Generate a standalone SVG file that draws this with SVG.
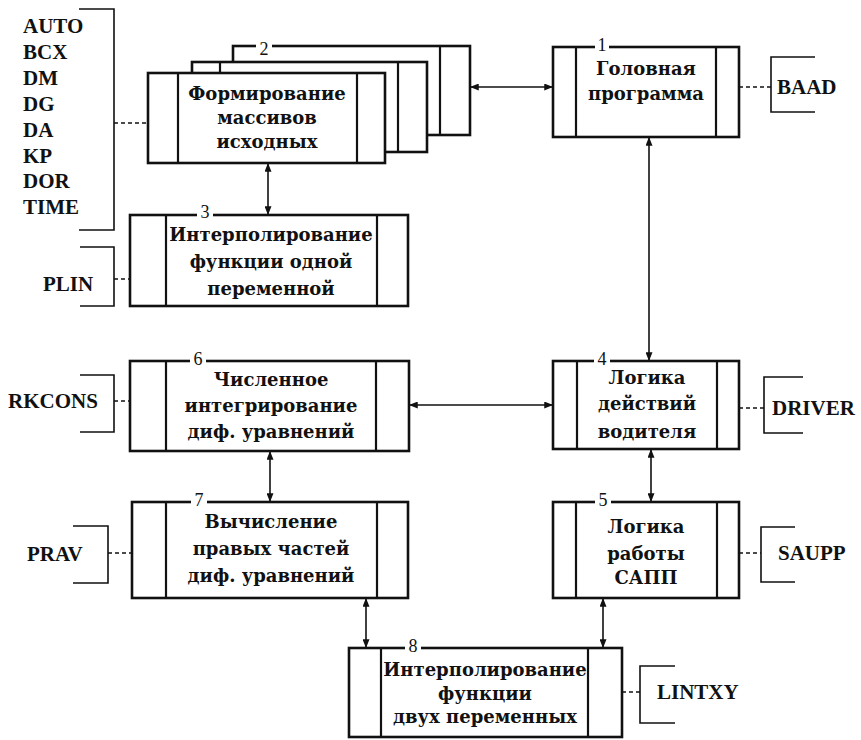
<svg xmlns="http://www.w3.org/2000/svg" width="861" height="740" viewBox="0 0 861 740">
<style>
.box{fill:#fff;stroke:#111;stroke-width:2.6}
.div{fill:none;stroke:#111;stroke-width:2.2}
.t{font-family:"DejaVu Serif","Liberation Serif",serif;font-weight:bold;font-size:18px;fill:#111;text-anchor:middle}
.n{font-family:"Liberation Serif",serif;font-size:18px;fill:#111;text-anchor:middle}
.lbl{font-family:"Liberation Serif",serif;font-weight:bold;font-size:21px;fill:#111}
.br{fill:none;stroke:#111;stroke-width:1.6}
.dash{fill:none;stroke:#111;stroke-width:1.6;stroke-dasharray:4 3}
.arr{fill:none;stroke:#111;stroke-width:1.6;marker-start:url(#ah);marker-end:url(#ah)}
.gap{fill:#fff}
</style>
<defs>
<marker id="ah" viewBox="0 0 10 8" refX="10" refY="4" markerWidth="10" markerHeight="7" markerUnits="userSpaceOnUse" orient="auto-start-reverse">
<path d="M0,0 L10,4 L0,8 z" fill="#111"/>
</marker>
</defs>
<rect width="861" height="740" fill="#fff"/>

<g id="connectors">
<line class="arr" x1="470" y1="87" x2="553" y2="87"/>
<line class="arr" x1="268" y1="163" x2="268" y2="215"/>
<line class="arr" x1="649" y1="137" x2="649" y2="361"/>
<line class="arr" x1="409" y1="405" x2="553" y2="405"/>
<line class="arr" x1="270" y1="451" x2="270" y2="502"/>
<line class="arr" x1="651" y1="449" x2="651" y2="502"/>
<line class="arr" x1="366" y1="598" x2="366" y2="648"/>
<line class="arr" x1="603" y1="598" x2="603" y2="648"/>
<line class="dash" x1="114" y1="123" x2="148" y2="123"/>
<line class="dash" x1="739" y1="87" x2="771" y2="87"/>
<line class="dash" x1="114" y1="279" x2="130" y2="279"/>
<line class="dash" x1="114" y1="401" x2="130" y2="401"/>
<line class="dash" x1="739" y1="408" x2="764" y2="408"/>
<line class="dash" x1="108" y1="553" x2="132" y2="553"/>
<line class="dash" x1="739" y1="553" x2="761" y2="553"/>
<line class="dash" x1="622" y1="692" x2="640" y2="692"/>
</g>

<g id="labels-left">
<path class="br" d="M79,9 H114 V230 H79"/>
<text class="lbl" x="23" y="33">AUTO</text>
<text class="lbl" x="23" y="59">BCX</text>
<text class="lbl" x="23" y="85">DM</text>
<text class="lbl" x="23" y="111">DG</text>
<text class="lbl" x="23" y="137">DA</text>
<text class="lbl" x="23" y="163">KP</text>
<text class="lbl" x="23" y="188">DOR</text>
<text class="lbl" x="23" y="214">TIME</text>
</g>

<g id="node2">
<rect class="box" x="233" y="46" width="237" height="89"/>
<line class="div" x1="440" y1="46" x2="440" y2="135"/>
<rect class="gap" x="256" y="40" width="16" height="10"/>
<text class="n" x="264" y="55">2</text>
<rect class="box" x="192" y="62" width="235" height="90"/>
<line class="div" x1="220" y1="62" x2="220" y2="152"/>
<line class="div" x1="398" y1="62" x2="398" y2="152"/>
<rect class="box" x="148" y="73" width="237" height="90"/>
<line class="div" x1="178" y1="73" x2="178" y2="163"/>
<line class="div" x1="357" y1="73" x2="357" y2="163"/>
<text class="t" x="267" y="100">Формирование</text>
<text class="t" x="267" y="124">массивов</text>
<text class="t" x="267" y="148">исходных</text>
</g>

<g id="node1">
<rect class="box" x="553" y="47" width="186" height="90"/>
<line class="div" x1="576" y1="47" x2="576" y2="137"/>
<line class="div" x1="716" y1="47" x2="716" y2="137"/>
<rect class="gap" x="595" y="42" width="14" height="10"/>
<text class="n" x="602" y="51">1</text>
<text class="t" x="646" y="75">Головная</text>
<text class="t" x="646" y="100">программа</text>
</g>

<g id="label-baad">
<path class="br" d="M815,57 H771 V112 H815"/>
<text class="lbl" x="777" y="94">BAAD</text>
</g>

<g id="node3">
<rect class="box" x="130" y="215" width="278" height="91"/>
<line class="div" x1="166" y1="215" x2="166" y2="306"/>
<line class="div" x1="377" y1="215" x2="377" y2="306"/>
<rect class="gap" x="197" y="209" width="16" height="10"/>
<text class="n" x="205" y="218">3</text>
<text class="t" x="271" y="241">Интерполирование</text>
<text class="t" x="271" y="268">функции одной</text>
<text class="t" x="271" y="295">переменной</text>
</g>

<g id="label-plin">
<path class="br" d="M80,247 H114 V306 H80"/>
<text class="lbl" x="43" y="291">PLIN</text>
</g>

<g id="node6">
<rect class="box" x="130" y="361" width="279" height="90"/>
<line class="div" x1="166" y1="361" x2="166" y2="451"/>
<line class="div" x1="376" y1="361" x2="376" y2="451"/>
<rect class="gap" x="190" y="355" width="16" height="10"/>
<text class="n" x="198" y="365">6</text>
<text class="t" x="271" y="386">Численное</text>
<text class="t" x="271" y="412">интегрирование</text>
<text class="t" x="271" y="438">диф. уравнений</text>
</g>

<g id="label-rkcons">
<path class="br" d="M80,375 H114 V432 H80"/>
<text class="lbl" x="8" y="408">RKCONS</text>
</g>

<g id="node4">
<rect class="box" x="553" y="361" width="186" height="88"/>
<line class="div" x1="577" y1="361" x2="577" y2="449"/>
<line class="div" x1="717" y1="361" x2="717" y2="449"/>
<rect class="gap" x="594" y="355" width="16" height="10"/>
<text class="n" x="602" y="365">4</text>
<text class="t" x="647" y="384">Логика</text>
<text class="t" x="647" y="410">действий</text>
<text class="t" x="647" y="438">водителя</text>
</g>

<g id="label-driver">
<path class="br" d="M803,377 H764 V433 H803"/>
<text class="lbl" x="772" y="415">DRIVER</text>
</g>

<g id="node7">
<rect class="box" x="132" y="502" width="276" height="96"/>
<line class="div" x1="166" y1="502" x2="166" y2="598"/>
<line class="div" x1="377" y1="502" x2="377" y2="598"/>
<rect class="gap" x="191" y="496" width="16" height="10"/>
<text class="n" x="199" y="506">7</text>
<text class="t" x="271" y="528">Вычисление</text>
<text class="t" x="271" y="555">правых частей</text>
<text class="t" x="271" y="582">диф. уравнений</text>
</g>

<g id="label-prav">
<path class="br" d="M73,526 H108 V583 H73"/>
<text class="lbl" x="27" y="561">PRAV</text>
</g>

<g id="node5">
<rect class="box" x="553" y="502" width="186" height="96"/>
<line class="div" x1="576" y1="502" x2="576" y2="598"/>
<line class="div" x1="717" y1="502" x2="717" y2="598"/>
<rect class="gap" x="595" y="496" width="16" height="10"/>
<text class="n" x="603" y="506">5</text>
<text class="t" x="646" y="533">Логика</text>
<text class="t" x="646" y="560">работы</text>
<text class="t" x="646" y="584">САПП</text>
</g>

<g id="label-saupp">
<path class="br" d="M795,527 H761 V582 H795"/>
<text class="lbl" x="778" y="560">SAUPP</text>
</g>

<g id="node8">
<rect class="box" x="349" y="648" width="273" height="89"/>
<line class="div" x1="381" y1="648" x2="381" y2="737"/>
<line class="div" x1="588" y1="648" x2="588" y2="737"/>
<rect class="gap" x="405" y="642" width="16" height="10"/>
<text class="n" x="413" y="652">8</text>
<text class="t" x="485" y="676">Интерполирование</text>
<text class="t" x="485" y="700">функции</text>
<text class="t" x="485" y="723">двух переменных</text>
</g>

<g id="label-lintxy">
<path class="br" d="M675,666 H640 V723 H675"/>
<text class="lbl" x="657" y="699">LINTXY</text>
</g>
</svg>
